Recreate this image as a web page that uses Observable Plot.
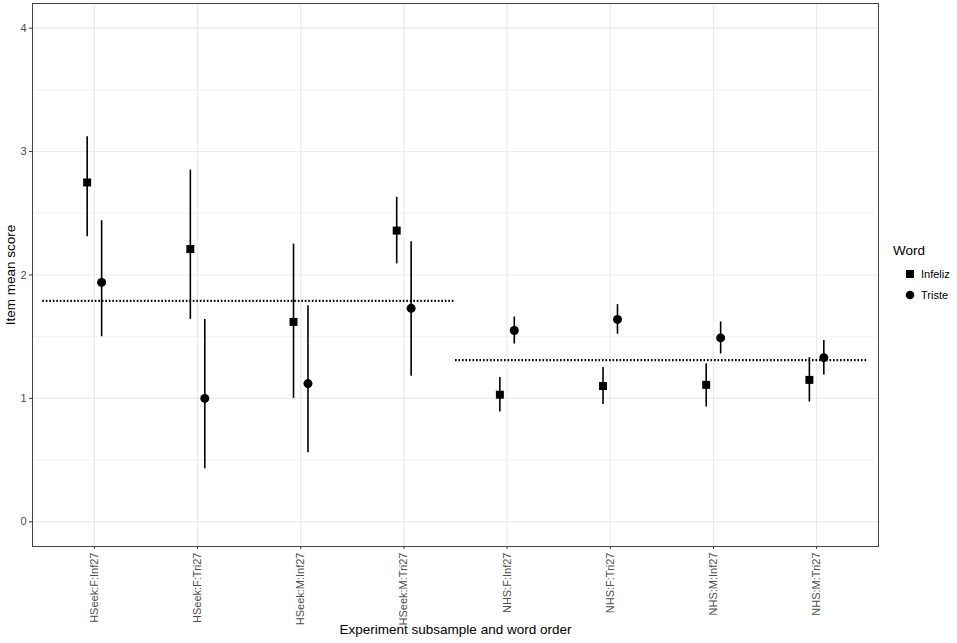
<!DOCTYPE html>
<html>
<head>
<meta charset="utf-8">
<script src="https://cdn.jsdelivr.net/npm/d3@7"></script>
<script src="https://cdn.jsdelivr.net/npm/@observablehq/plot@0.6"></script>
<style>
  html, body { margin: 0; padding: 0; background: #fff; }
  #wrap { position: relative; width: 957px; height: 643px; font-family: "Liberation Sans", Arial, sans-serif; }
  #legend { position: absolute; left: 893px; top: 243px; color: #000; }
  #legend .title { font-size: 13.5px; margin-bottom: 5px; }
  #legend .item { display: flex; align-items: center; height: 21px; font-size: 11px; }
  #legend svg { margin-right: 6px; margin-left: 12px; }
</style>
</head>
<body>
<div id="wrap"><div id="legend"></div></div>
<script>
const categories = ["HSeek:F:Inf27","HSeek:F:Tri27","HSeek:M:Inf27","HSeek:M:Tri27","NHS:F:Inf27","NHS:F:Tri27","NHS:M:Inf27","NHS:M:Tri27"];
const words = ["Infeliz", "Triste"];
const infelizMean  = [2.75, 2.21, 1.62, 2.36, 1.03, 1.10, 1.11, 1.15];
const infelizLower = [2.31, 1.64, 1.00, 2.09, 0.89, 0.95, 0.93, 0.97];
const infelizUpper = [3.12, 2.85, 2.25, 2.63, 1.17, 1.25, 1.28, 1.33];
const tristeMean   = [1.94, 1.00, 1.12, 1.73, 1.55, 1.64, 1.49, 1.33];
const tristeLower  = [1.50, 0.43, 0.56, 1.18, 1.44, 1.52, 1.36, 1.19];
const tristeUpper  = [2.44, 1.64, 1.75, 2.27, 1.66, 1.76, 1.62, 1.47];
const groupMeans = [
  {group: "HSeek", from: 1, to: 4, mean: 1.79},
  {group: "NHS", from: 5, to: 8, mean: 1.31}
];
const yTicks = [0, 1, 2, 3, 4];
const yMinor = [0.5, 1.5, 2.5, 3.5];

const dodge = 0.07;
const rows = [];
categories.forEach((c, i) => {
  rows.push({cat: c, idx: i + 1, word: "Infeliz", x: i + 1 - dodge, mean: infelizMean[i], lo: infelizLower[i], hi: infelizUpper[i]});
  rows.push({cat: c, idx: i + 1, word: "Triste", x: i + 1 + dodge, mean: tristeMean[i], lo: tristeLower[i], hi: tristeUpper[i]});
});
const hlines = groupMeans.map(g => ({x1: g.from - 0.5, x2: g.to + 0.5, y: g.mean}));
const catIdx = categories.map((c, i) => i + 1);

const chart = Plot.plot({
  width: 957,
  height: 643,
  marginLeft: 32,
  marginTop: 3,
  marginBottom: 97,
  marginRight: 79,
  style: {fontFamily: "Liberation Sans, Arial, sans-serif", background: "#fff"},
  x: {type: "linear", domain: [0.4, 8.6]},
  y: {domain: [-0.2, 4.2]},
  symbol: {domain: words, range: ["square", "circle"]},
  marks: [
    Plot.ruleY(yMinor, {stroke: "#ebebeb", strokeWidth: 0.6}),
    Plot.ruleY(yTicks, {stroke: "#ebebeb", strokeWidth: 1.2}),
    Plot.ruleX(catIdx, {stroke: "#ebebeb", strokeWidth: 1.2}),
    Plot.axisY({ticks: yTicks, tickFormat: d3.format("d"), tickSize: 3, tickPadding: 3, fontSize: 11, color: "#4d4d4d", stroke: "#333", label: null}),
    Plot.axisX({ticks: catIdx, tickFormat: d => categories[d - 1], tickRotate: -90, tickSize: 3, tickPadding: 3, fontSize: 11, color: "#4d4d4d", stroke: "#333", label: null}),
    Plot.ruleY(hlines, {x1: "x1", x2: "x2", y: "y", stroke: "#000", strokeWidth: 2.2, strokeDasharray: "1.6,1.9"}),
    Plot.ruleX(rows, {x: "x", y1: "lo", y2: "hi", stroke: "#000", strokeWidth: 1.6}),
    Plot.dot(rows, {x: "x", y: "mean", symbol: "word", fill: "#000", stroke: "none", r: 4.5}),
    Plot.frame({stroke: "#444", strokeWidth: 1}),
    Plot.text(["Experiment subsample and word order"], {frameAnchor: "bottom", dy: 83, fontSize: 13.5, fill: "#000", lineAnchor: "middle"}),
    Plot.text(["Item mean score"], {frameAnchor: "left", dx: -22, rotate: -90, fontSize: 13.5, fill: "#000", lineAnchor: "middle", textAnchor: "middle"})
  ]
});
const wrap = document.getElementById("wrap");
wrap.insertBefore(chart, wrap.firstChild);

const legend = document.getElementById("legend");
legend.innerHTML = `<div class="title">Word</div>` + words.map(w => `
  <div class="item"><svg width="10" height="10" viewBox="0 0 10 10">${w === "Infeliz" ? '<rect x="1" y="1" width="8" height="8" fill="#000"/>' : '<circle cx="5" cy="5" r="4.3" fill="#000"/>'}</svg>${w}</div>`).join("");
</script>
</body>
</html>
